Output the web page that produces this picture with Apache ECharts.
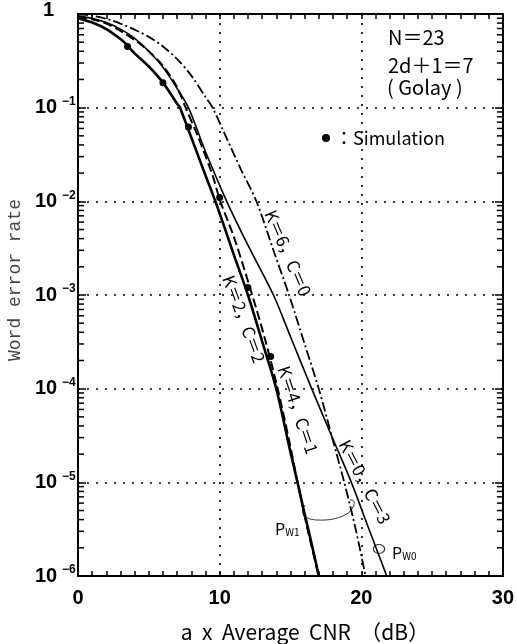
<!DOCTYPE html>
<html><head><meta charset="utf-8">
<script src="https://cdn.jsdelivr.net/npm/echarts@6/dist/echarts.min.js"></script>
<style>html,body{margin:0;padding:0;background:#fff}#c{width:517px;height:644px}</style>
</head><body><div id="c"></div>
<script>
// ---- data ----
const k2c2 = [[0,0.90],[1,0.81],[2,0.69],[3,0.54],[3.5,0.46],[4,0.38],[5,0.275],[6,0.185],[7,0.11],[7.2,0.1],[8,0.048],[9,0.019],[9.7,0.01],[10.5,0.0045],[11,0.0027],[12,0.001],[13,3.2e-4],[14,1e-4],[15,2.1e-5],[15.5,1e-5],[16,4.6e-6],[16.5,2.2e-6],[17.0,1e-6]];
const k4c1 = [[0,0.93],[1,0.88],[2,0.79],[3,0.66],[4.3,0.49],[5,0.4],[6,0.28],[7,0.165],[7.6,0.1],[8.5,0.048],[9.5,0.019],[10.05,0.01],[11,0.0042],[12.3,0.001],[13.2,3.4e-4],[14.1,1e-4],[15,2.4e-5],[15.5,1e-5],[16.2,3.2e-6],[17.0,1e-6]];
const k6c0 = [[0,0.99],[1,0.96],[2,0.89],[3,0.79],[4,0.68],[5,0.57],[6,0.45],[7,0.33],[8,0.22],[9,0.13],[9.5,0.1],[10.5,0.047],[11.5,0.022],[12.6,0.01],[13.8,0.003],[14.9,0.001],[16,3e-4],[17,1e-4],[18,2.8e-5],[18.8,1e-5],[19.6,3.2e-6],[20.3,1e-6]];
const k0c3 = [[0,0.95],[1,0.9],[2,0.81],[3,0.69],[4,0.55],[5,0.4],[6,0.27],[7,0.16],[7.8,0.1],[9,0.034],[10.5,0.01],[12,0.0034],[13.8,0.001],[15,3.6e-4],[16.5,1e-4],[18,2.9e-5],[19.3,1e-5],[20.5,3.3e-6],[21.8,1e-6]];
const simulation = [[3.5,0.45],[6.0,0.185],[7.8,0.062],[10.0,0.011],[12.0,0.0012],[13.6,2.2e-4]];
const xTickLabels = {0:'0',10:'10',20:'20',30:'30'};
const yTickValues = [1,1e-1,1e-2,1e-3,1e-4,1e-5,1e-6];
const yExponentLabels = {'0':'1','-1':'−1','-2':'−2','-3':'−3','-4':'−4','-5':'−5','-6':'−6'};
const minorMantissas = [2,3,4,5,6,7,8,9];
const minorDecades = [1e-6,1e-5,1e-4,1e-3,1e-2,1e-1];

const yMinor = [];
minorDecades.forEach(d => minorMantissas.forEach(m => yMinor.push([0, m*d])));

const TICK_FONT = '"Liberation Sans",Arial,sans-serif';
const JP = '"Noto Sans CJK JP","Noto Sans",sans-serif';

const chart = echarts.init(document.getElementById('c'), null, {renderer:'canvas'});
const axisLine = {show:true, onZero:false, lineStyle:{color:'#000', width:2}};
const dotted = {show:true, lineStyle:{color:'#000', width:1.6, type:[2,7]}};

const option = {
  animation:false,
  backgroundColor:'#fff',
  grid:{left:78, right:10, top:14, bottom:68, containLabel:false},
  legend:{
    data:[{name:'Simulation', icon:'circle', itemStyle:{color:'#000', opacity:1}}],
    left:317, top:124, itemWidth:8, itemHeight:8, itemGap:4,
    formatter:'：Simulation',
    textStyle:{fontSize:18, fontFamily:JP, color:'#000'}
  },
  xAxis:[
    {type:'value', min:0, max:30, interval:10, position:'bottom',
     axisLine:axisLine,
     axisTick:{show:true, inside:true, length:5, lineStyle:{color:'#000', width:1.5}},
     minorTick:{show:true, splitNumber:10, length:5, lineStyle:{color:'#000', width:1.5}},
     axisLabel:{margin:12, fontSize:20, fontWeight:'bold', fontFamily:TICK_FONT, color:'#000',
       formatter:v => xTickLabels[v] || ''},
     splitLine:dotted},
    {type:'value', min:0, max:30, interval:10, position:'top',
     axisLine:axisLine,
     axisTick:{show:true, inside:true, length:5, lineStyle:{color:'#000', width:1.5}},
     minorTick:{show:true, splitNumber:10, length:5, lineStyle:{color:'#000', width:1.5}},
     axisLabel:{show:false}, splitLine:{show:false}}
  ],
  yAxis:[
    {type:'log', logBase:10, min:1e-6, max:1, splitNumber:6, position:'left',
     axisLine:axisLine,
     axisTick:{show:true, inside:true, length:8, lineStyle:{color:'#000', width:1.5}},
     axisLabel:{show:false},
     splitLine:dotted},
    {type:'log', logBase:10, min:1e-6, max:1, splitNumber:6, position:'right',
     axisLine:axisLine,
     axisTick:{show:true, inside:true, length:8, lineStyle:{color:'#000', width:1.5}},
     axisLabel:{show:false}, splitLine:{show:false}}
  ],
  series:[
    {name:'K=2, C=2', type:'line', data:k2c2, showSymbol:false, smooth:0.3,
     lineStyle:{color:'#000', width:2.6, type:'solid'}},
    {name:'K=4, C=1', type:'line', data:k4c1, showSymbol:false, smooth:0.3,
     lineStyle:{color:'#000', width:2, type:[9,4]}},
    {name:'K=6, C=0', type:'line', data:k6c0, showSymbol:false, smooth:0.3,
     lineStyle:{color:'#000', width:1.8, type:[10,3,2,3]}},
    {name:'K=0, C=3', type:'line', data:k0c3, showSymbol:false, smooth:0.3,
     lineStyle:{color:'#000', width:1.6, type:'solid'}},
    {name:'Simulation', type:'scatter', data:simulation, symbol:'circle', symbolSize:7,
     itemStyle:{color:'#000', opacity:1}, z:6},
    {name:'minorTicks', type:'custom', data:yMinor, silent:true, z:5, clip:false,
     renderItem:(params, api) => {
       const v = api.value(1);
       const l = api.coord([0, v]);
       const r = api.coord([30, v]);
       return {type:'group', children:[
         {type:'line', shape:{x1:l[0], y1:l[1], x2:l[0]+6, y2:l[1]}, style:{stroke:'#000', lineWidth:1.5}},
         {type:'line', shape:{x1:r[0], y1:r[1], x2:r[0]-6, y2:r[1]}, style:{stroke:'#000', lineWidth:1.5}}
       ]};
     }},
    {name:'yLabels', type:'custom', data:yTickValues.map(v => [0, v]), silent:true, z:5, clip:false,
     renderItem:(params, api) => {
       const v = api.value(1);
       const p = api.coord([0, v]);
       const e = String(Math.round(Math.log10(v)));
       if (e === '0') {
         return {type:'text', x:p[0]-35, y:p[1]-4, style:{text:'1', fontSize:20, fontWeight:'bold', fontFamily:TICK_FONT, fill:'#000', align:'left', verticalAlign:'middle'}};
       }
       return {type:'group', children:[
         {type:'text', x:p[0]-43, y:p[1], style:{text:'10', fontSize:20, fontWeight:'bold', fontFamily:TICK_FONT, fill:'#000', align:'left', verticalAlign:'middle'}},
         {type:'text', x:p[0]-16, y:p[1]-6, style:{text:yExponentLabels[e], fontSize:12, fontWeight:'bold', fontFamily:TICK_FONT, fill:'#000', align:'left', verticalAlign:'middle'}}
       ]};
     }}
  ],
  graphic:[
    {type:'text', x:388, y:37, style:{text:'N＝23', fontSize:20, fontFamily:JP, fill:'#000', align:'left', verticalAlign:'middle'}},
    {type:'text', x:388, y:65, style:{text:'2d＋1＝7', fontSize:20, fontFamily:JP, fill:'#000', align:'left', verticalAlign:'middle'}},
    {type:'text', x:387, y:87, style:{text:'( Golay )', fontSize:20, fontFamily:JP, fill:'#000', align:'left', verticalAlign:'middle'}},
    {type:'text', x:288, y:253, rotation:-66.7*Math.PI/180, style:{text:'K＝6，C＝0', fontSize:17, fontFamily:JP, fill:'#000', align:'center', verticalAlign:'middle'}},
    {type:'text', x:244, y:319, rotation:-69.8*Math.PI/180, style:{text:'K＝2，C＝2', fontSize:17, fontFamily:JP, fill:'#000', align:'center', verticalAlign:'middle'}},
    {type:'text', x:298, y:410, rotation:-71.4*Math.PI/180, style:{text:'K＝4，C＝1', fontSize:17, fontFamily:JP, fill:'#000', align:'center', verticalAlign:'middle'}},
    {type:'text', x:365, y:482, rotation:-62.9*Math.PI/180, style:{text:'K＝0，C＝3', fontSize:17, fontFamily:JP, fill:'#000', align:'center', verticalAlign:'middle'}},
    {type:'text', x:275, y:529, style:{text:'{p|P}{s|W1}', align:'left', verticalAlign:'middle',
      rich:{p:{fontSize:16, fontFamily:JP, fill:'#000'}, s:{fontSize:10, fontFamily:JP, fill:'#000', padding:[6,0,0,0]}}}},
    {type:'text', x:392, y:553, style:{text:'{p|P}{s|W0}', align:'left', verticalAlign:'middle',
      rich:{p:{fontSize:16, fontFamily:JP, fill:'#000'}, s:{fontSize:10, fontFamily:JP, fill:'#000', padding:[6,0,0,0]}}}},
    {type:'bezierCurve', shape:{x1:305, y1:505, cpx1:298, cpy1:514, cpx2:306, cpy2:520, x2:318, y2:520}, style:{fill:'none', stroke:'#333', lineWidth:1}},
    {type:'bezierCurve', shape:{x1:318, y1:520, cpx1:335, cpy1:521, cpx2:350, cpy2:515, x2:353, y2:507}, style:{fill:'none', stroke:'#333', lineWidth:1}},
    {type:'bezierCurve', shape:{x1:353, y1:507, cpx1:356, cpy1:502, cpx2:353, cpy2:499, x2:350, y2:500}, style:{fill:'none', stroke:'#333', lineWidth:1}},
    {type:'circle', x:379, y:549, scaleX:1.25, shape:{cx:0, cy:0, r:4.5}, style:{fill:'none', stroke:'#333', lineWidth:1}},
    {type:'text', x:305, y:632, style:{text:'a  x  Average  CNR  （dB）', fontSize:21, fontFamily:JP, fill:'#000', align:'center', verticalAlign:'middle'}},
    {type:'text', x:15, y:280, rotation:Math.PI/2, style:{text:'Word error rate', fontSize:18, fontFamily:'"Liberation Mono","DejaVu Sans Mono",monospace', fill:'#444', align:'center', verticalAlign:'middle'}}
  ]
};
chart.setOption(option);
</script></body></html>
